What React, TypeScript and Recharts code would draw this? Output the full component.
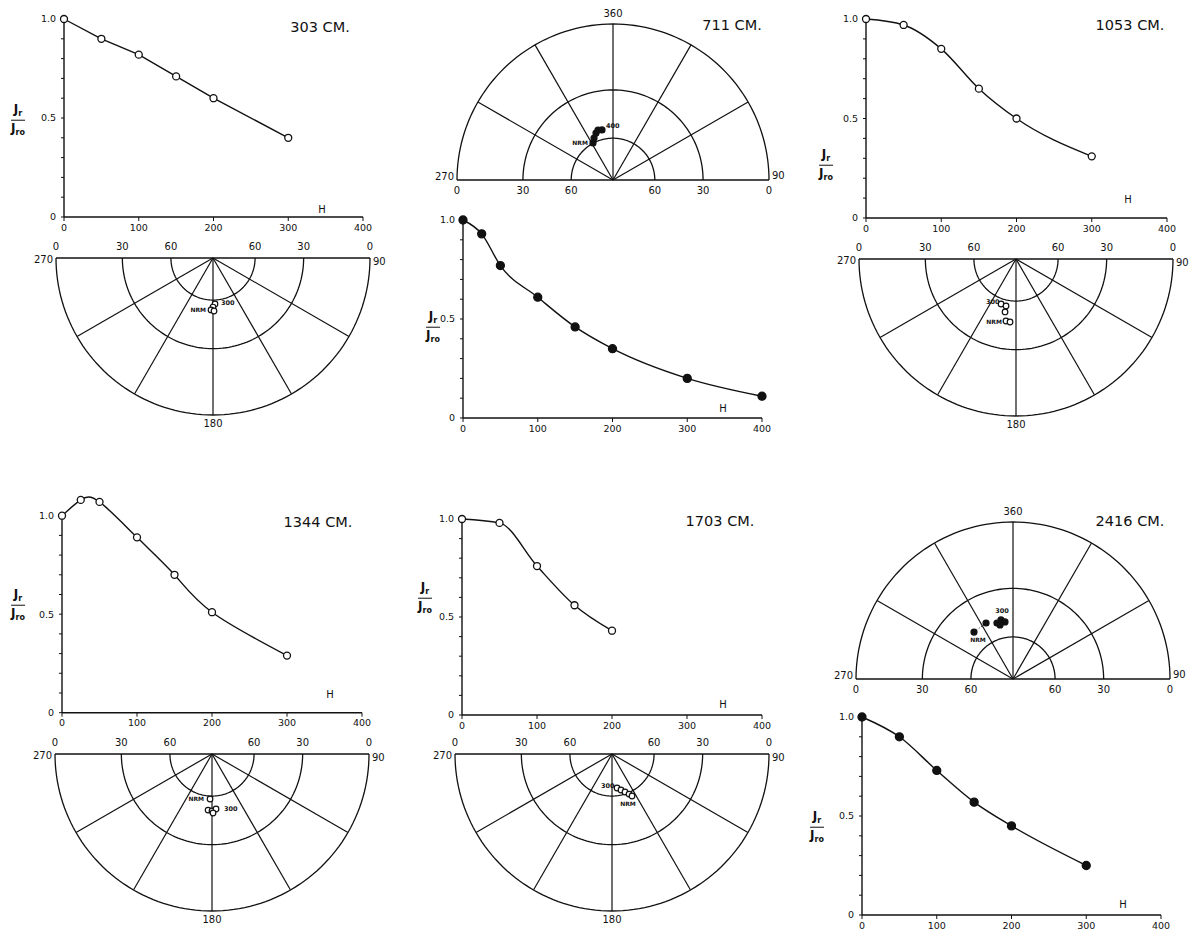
import React from "react";
import { LineChart, Line, XAxis, YAxis, ScatterChart, Scatter, ReferenceLine } from "recharts";

const INK = "#111";
const FONT = "'DejaVu Sans', 'Liberation Sans', sans-serif";

// AF demagnetisation curves: peak field H (oe) and Jr/Jro
const h303 = [0, 50, 100, 150, 200, 300];
const j303 = [1.0, 0.9, 0.82, 0.71, 0.6, 0.4];
const h711 = [0, 25, 50, 100, 150, 200, 300, 400];
const j711 = [1.0, 0.93, 0.77, 0.61, 0.46, 0.35, 0.2, 0.11];
const h1053 = [0, 50, 100, 150, 200, 300];
const j1053 = [1.0, 0.97, 0.85, 0.65, 0.5, 0.31];
const h1344 = [0, 25, 50, 100, 150, 200, 300];
const j1344 = [1.0, 1.08, 1.07, 0.89, 0.7, 0.51, 0.29];
const h1703 = [0, 50, 100, 150, 200];
const j1703 = [1.0, 0.98, 0.76, 0.56, 0.43];
const h2416 = [0, 50, 100, 150, 200, 300];
const j2416 = [1.0, 0.9, 0.73, 0.57, 0.45, 0.25];

// remanence directions during cleaning: declination, inclination (deg)
const dec303 = [177.5, 180, 182.2, 178.9];
const inc303 = [57.3, 55.3, 53.4, 52.7];
const dec711 = [331.6, 335.7, 340.1, 343.3, 347.6];
const inc711 = [59.8, 57.1, 54.5, 53, 53.6];
const dec1053 = [198.4, 192, 191.7, 189.2, 185.4];
const inc1053 = [56.4, 56, 52, 46.4, 46.1];
const dec1344 = [182.5, 184, 180, 175.8, 179];
const inc1344 = [58, 50.6, 50.1, 51.3, 48.8];
const dec1703 = [171.6, 166, 161.1, 157, 154.5];
const inc1703 = [65.3, 63.4, 61.3, 59, 57];
const dec2416 = [320.3, 334.3, 344, 348.5, 352, 346.5];
const inc2416 = [47.5, 46.8, 49.3, 48, 49.7, 51];

const hTicks = [0, 100, 200, 300, 400];
const jTicks = [0, 0.1, 0.2, 0.3, 0.4, 0.5, 0.6, 0.7, 0.8, 0.9, 1.0];
const incRings = [0, 30, 60];
const spokesLower = [120, 150, 180, 210, 240];
const spokesUpper = [300, 330, 0, 30, 60];

const rad = (d: number) => (d * Math.PI) / 180;
const ringR = (inc: number) => Math.tan(rad((90 - inc) / 2));
const proj = (dec: number, inc: number) => {
  const r = ringR(inc);
  return { x: r * Math.sin(rad(dec)), y: r * Math.cos(rad(dec)) };
};

const fmtJ = (v: number) => (v === 0 ? "0" : v === 0.5 ? "0.5" : v === 1 ? "1.0" : "");

function Txt({ x, y, size = 10, children, anchor = "middle" }: any) {
  const tx = anchor === "middle" ? "-50%" : anchor === "end" ? "-100%" : "0";
  return (
    <div
      style={{
        position: "absolute",
        left: x,
        top: y,
        transform: `translate(${tx}, -50%)`,
        fontSize: size,
        whiteSpace: "nowrap",
        lineHeight: 1,
      }}
    >
      {children}
    </div>
  );
}

function Frac({ x, y }: { x: number; y: number }) {
  return (
    <div
      style={{
        position: "absolute",
        left: x,
        top: y,
        transform: "translate(-50%, -50%)",
        fontSize: 12,
        fontWeight: 700,
        textAlign: "center",
        lineHeight: 1.05,
      }}
    >
      <div style={{ borderBottom: `1.3px solid ${INK}`, padding: "0 1px 1px" }}>
        J<sub style={{ fontSize: 8 }}>r</sub>
      </div>
      <div style={{ paddingTop: 1 }}>
        J<sub style={{ fontSize: 8 }}>ro</sub>
      </div>
    </div>
  );
}

function DecayChart({ x0, x1, y0, y1, h, j, solid, curve = "monotone", yMax = 1 }: any) {
  const rows = h.map((v: number, i: number) => ({ h: v, j: j[i] }));
  const plotTop = y0 - (y0 - y1) * yMax;
  const padL = 50, padT = 12, padR = 20, padB = 30;
  const yw = 40, xh = 25;
  const width = padL + (x1 - x0) + padR;
  const height = padT + (y0 - plotTop) + padB;
  const tick = { fill: INK, fontSize: 9.5, fontFamily: FONT };
  return (
    <div style={{ position: "absolute", left: x0 - padL, top: plotTop - padT }}>
      <LineChart
        width={width}
        height={height}
        data={rows}
        margin={{ top: padT, right: padR, bottom: padB - xh, left: padL - yw }}
      >
        <XAxis
          type="number"
          dataKey="h"
          domain={[0, 400]}
          ticks={hTicks}
          height={xh}
          tick={tick}
          tickSize={4}
          tickMargin={3}
          axisLine={{ stroke: INK, strokeWidth: 1.4 }}
          tickLine={{ stroke: INK }}
        />
        <YAxis
          type="number"
          domain={[0, yMax]}
          ticks={jTicks}
          width={yw}
          tick={tick}
          tickSize={3}
          tickMargin={5}
          tickFormatter={fmtJ}
          axisLine={yMax > 1 ? false : { stroke: INK, strokeWidth: 1.4 }}
          tickLine={{ stroke: INK }}
        />
        {yMax > 1 && (
          <ReferenceLine
            segment={[{ x: 0, y: 0 }, { x: 0, y: 1 }]}
            stroke={INK}
            strokeWidth={1.4}
            ifOverflow="visible"
          />
        )}
        <Line
          type={curve}
          dataKey="j"
          stroke={INK}
          strokeWidth={1.4}
          dot={{ r: solid ? 4 : 3.5, fill: solid ? INK : "#fff", stroke: INK, strokeWidth: 1.3 }}
          isAnimationActive={false}
        />
      </LineChart>
    </div>
  );
}

const makeShape = (solid: boolean) => (p: any) => {
  const { cx, cy, payload } = p;
  const n = payload.note;
  return (
    <g>
      <circle cx={cx} cy={cy} r={solid ? 3 : 2.8} fill={solid ? INK : "#fff"} stroke={INK} strokeWidth={1.2} />
      {n && (
        <text
          x={cx + n.dx}
          y={cy + n.dy}
          fontSize={n.size || 6.5}
          fontWeight={700}
          fontFamily={FONT}
          fill={INK}
          textAnchor={n.anchor || "start"}
          dominantBaseline="middle"
        >
          {n.text}
        </text>
      )}
    </g>
  );
};

const NoDot = () => <g />;

function Stereonet({ cx, cy, R, upper, dec, inc, solid, notes, dotted }: any) {
  const m = 4;
  const width = 2 * R + 2 * m;
  const height = R + 2 * m;
  const pts = dec.map((d: number, i: number) => ({
    ...proj(d, inc[i]),
    note: notes.find((n: any) => n.i === i),
  }));
  const from = upper ? 270 : 90;
  const arcs = incRings.map((I) => {
    const out = [];
    for (let a = from; a <= from + 180; a += 2) out.push(proj(a, I));
    return out;
  });
  const spokes = upper ? spokesUpper : spokesLower;
  const ly = upper ? cy + 11 : cy - 11;
  return (
    <>
      <div style={{ position: "absolute", left: cx - R - m, top: upper ? cy - R - m : cy - m }}>
        <ScatterChart width={width} height={height} margin={{ top: m, right: m, bottom: m, left: m }}>
          <XAxis type="number" dataKey="x" domain={[-1, 1]} hide />
          <YAxis type="number" dataKey="y" domain={upper ? [0, 1] : [-1, 0]} hide />
          {arcs.map((arc, k) => (
            <Scatter
              key={k}
              data={arc}
              line={{ stroke: INK, strokeWidth: 1.3 }}
              lineType="joint"
              shape={NoDot}
              isAnimationActive={false}
            />
          ))}
          {spokes.map((a) => (
            <ReferenceLine
              key={a}
              segment={[{ x: 0, y: 0 }, proj(a, 0)]}
              stroke={INK}
              strokeWidth={1.2}
              ifOverflow="visible"
            />
          ))}
          <ReferenceLine
            segment={[{ x: -1, y: 0 }, { x: 1, y: 0 }]}
            stroke={INK}
            strokeWidth={1.5}
            ifOverflow="visible"
          />
          {dotted && (
            <Scatter
              data={pts.slice(0, 2)}
              line={{ stroke: INK, strokeWidth: 1, strokeDasharray: "1 2" }}
              lineType="joint"
              shape={NoDot}
              isAnimationActive={false}
            />
          )}
          <Scatter data={pts} shape={makeShape(solid)} isAnimationActive={false} />
        </ScatterChart>
      </div>
      {incRings.map((I) => (
        <React.Fragment key={I}>
          <Txt x={cx - ringR(I) * R} y={ly}>{I}</Txt>
          <Txt x={cx + ringR(I) * R} y={ly}>{I}</Txt>
        </React.Fragment>
      ))}
      <Txt x={cx - R - 3} y={upper ? cy - 3 : cy + 2} anchor="end">270</Txt>
      <Txt x={cx + R + 3} y={upper ? cy - 4 : cy + 4} anchor="start">90</Txt>
      {upper ? <Txt x={cx} y={cy - R - 10}>360</Txt> : <Txt x={cx} y={cy + R + 9}>180</Txt>}
    </>
  );
}

export default function App() {
  return (
    <div
      style={{
        position: "absolute",
        left: 0,
        top: 0,
        width: 1194,
        height: 931,
        background: "#fff",
        color: INK,
        fontFamily: FONT,
        overflow: "hidden",
      }}
    >
      {/* 303 cm */}
      <DecayChart x0={64} x1={363} y0={217} y1={19} h={h303} j={j303} curve="linear" />
      <Txt x={320} y={27} size={14.5}>303 CM.</Txt>
      <Txt x={322} y={210}>H</Txt>
      <Frac x={18} y={120} />
      <Stereonet
        cx={213}
        cy={258}
        R={157}
        dec={dec303}
        inc={inc303}
        notes={[
          { i: 2, text: "NRM", dx: -5, dy: 0, anchor: "end", size: 6 },
          { i: 0, text: "300", dx: 6, dy: -1 },
        ]}
      />

      {/* 711 cm */}
      <Stereonet
        cx={613}
        cy={180}
        R={156}
        upper
        solid
        dec={dec711}
        inc={inc711}
        notes={[
          { i: 0, text: "NRM", dx: -5, dy: 0, anchor: "end", size: 6 },
          { i: 4, text: "400", dx: 4, dy: -4 },
        ]}
      />
      <Txt x={732} y={25} size={14.5}>711 CM.</Txt>
      <DecayChart x0={463} x1={762} y0={418} y1={220} h={h711} j={j711} solid />
      <Txt x={723} y={409}>H</Txt>
      <Frac x={433} y={327} />

      {/* 1053 cm */}
      <DecayChart x0={866} x1={1167} y0={218} y1={19} h={h1053} j={j1053} />
      <Txt x={1130} y={25} size={14.5}>1053 CM.</Txt>
      <Txt x={1128} y={200}>H</Txt>
      <Frac x={826} y={165} />
      <Stereonet
        cx={1016}
        cy={259}
        R={157}
        dec={dec1053}
        inc={inc1053}
        notes={[
          { i: 0, text: "300", dx: -15, dy: -2 },
          { i: 3, text: "NRM", dx: -4, dy: 1, anchor: "end", size: 6 },
        ]}
      />

      {/* 1344 cm */}
      <DecayChart x0={62} x1={362} y0={713} y1={516} h={h1344} j={j1344} curve="natural" yMax={1.1} />
      <Txt x={318} y={522} size={14.5}>1344 CM.</Txt>
      <Txt x={330} y={695}>H</Txt>
      <Frac x={18} y={605} />
      <Stereonet
        cx={212}
        cy={754}
        R={157}
        dec={dec1344}
        inc={inc1344}
        notes={[
          { i: 0, text: "NRM", dx: -6, dy: 0, anchor: "end", size: 6 },
          { i: 3, text: "300", dx: 8, dy: 0 },
        ]}
      />

      {/* 1703 cm */}
      <DecayChart x0={462} x1={762} y0={715} y1={519} h={h1703} j={j1703} />
      <Txt x={720} y={521} size={14.5}>1703 CM.</Txt>
      <Txt x={723} y={705}>H</Txt>
      <Frac x={425} y={598} />
      <Stereonet
        cx={612}
        cy={754}
        R={157}
        dec={dec1703}
        inc={inc1703}
        notes={[
          { i: 0, text: "300", dx: -16, dy: -2 },
          { i: 4, text: "NRM", dx: -4, dy: 8, anchor: "middle", size: 6 },
        ]}
      />

      {/* 2416 cm */}
      <Stereonet
        cx={1013}
        cy={679}
        R={157}
        upper
        solid
        dotted
        dec={dec2416}
        inc={inc2416}
        notes={[
          { i: 0, text: "NRM", dx: 4, dy: 8, anchor: "middle", size: 6 },
          { i: 3, text: "300", dx: 1, dy: -9, anchor: "middle" },
        ]}
      />
      <Txt x={1130} y={521} size={14.5}>2416 CM.</Txt>
      <DecayChart x0={862} x1={1161} y0={915} y1={717} h={h2416} j={j2416} solid />
      <Txt x={1123} y={905}>H</Txt>
      <Frac x={817} y={827} />
    </div>
  );
}
